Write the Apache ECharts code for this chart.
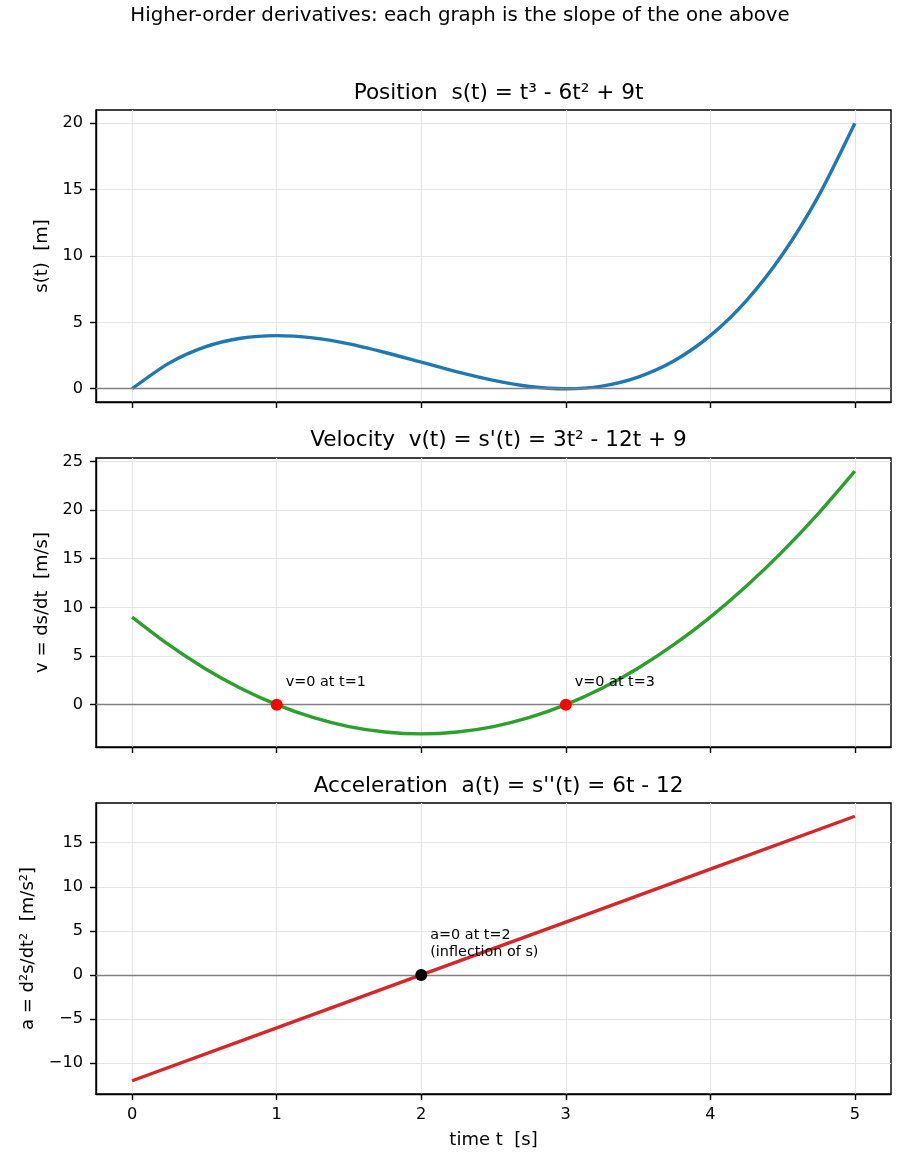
<!DOCTYPE html>
<html>
<head>
<meta charset="utf-8">
<script src="https://cdn.jsdelivr.net/npm/echarts@6/dist/echarts.min.js"></script>
<style>
  html, body { margin: 0; padding: 0; background: #fff; }
  #chart { width: 910px; height: 1170px; }
</style>
</head>
<body>
<div id="chart"></div>
<script>
const tVals = [0, 0.25, 0.5, 0.75, 1, 1.25, 1.5, 1.75, 2, 2.25, 2.5, 2.75, 3, 3.25, 3.5, 3.75, 4, 4.25, 4.5, 4.75, 5];
const sVals = [0, 1.89, 3.13, 3.8, 4, 3.83, 3.38, 2.73, 2, 1.27, 0.63, 0.17, 0, 0.2, 0.88, 2.11, 4, 6.64, 10.13, 14.55, 20];
const vVals = [9, 6.19, 3.75, 1.69, 0, -1.31, -2.25, -2.81, -3, -2.81, -2.25, -1.31, 0, 1.69, 3.75, 6.19, 9, 12.19, 15.75, 19.69, 24];
const aT = [0, 1, 2, 3, 4, 5];
const aVals = [-12, -6, 0, 6, 12, 18];

const vZeroPts = [[1, 0, 'v=0 at t=1'], [3, 0, 'v=0 at t=3']];
const aZeroPts = [[2, 0, 'a=0 at t=2\n(inflection of s)']];

const xTicks = [0, 1, 2, 3, 4, 5];
const sTicks = [0, 5, 10, 15, 20];
const vTicks = [0, 5, 10, 15, 20, 25];
const aTicks = [-10, -5, 0, 5, 10, 15];

const titles = [
  'Position  s(t) = t³ - 6t² + 9t',
  "Velocity  v(t) = s'(t) = 3t² - 12t + 9",
  "Acceleration  a(t) = s''(t) = 6t - 12"
];
const yNames = ['s(t)  [m]', 'v = ds/dt  [m/s]', 'a = d²s/dt²  [m/s²]'];

const FONT = 'DejaVu Sans';
const TICK_FS = 16.2;
const LABEL_FS = 18;
const SUP_FS = 19.8;
const TITLE_FS = 21.6;
const NOTE_FS = 14.4;
const pair = (xs, ys) => xs.map((x, i) => [x, ys[i]]);

const grids = [
  { left: 96, right: 19, top: 110, height: 292 },
  { left: 96, right: 19, top: 458, height: 289 },
  { left: 96, right: 19, top: 803, height: 291 }
].map(g => Object.assign(g, { show: true, borderColor: '#000', borderWidth: 1.4, backgroundColor: 'transparent' }));

const yRanges = [[-1, 21], [-4.35, 25.35], [-13.5, 19.5]];
const yTickSets = [sTicks, vTicks, aTicks];
const nameGaps = [43, 43, 59];

const minusFmt = v => String(v).replace('-', '\u2212');

const xAxes = [0, 1, 2].map(i => ({
  type: 'value', gridIndex: i, min: -0.25, max: 5.25,
  name: i === 2 ? 'time t  [s]' : '',
  nameLocation: 'middle', nameGap: 37,
  nameTextStyle: { fontFamily: FONT, fontSize: LABEL_FS, color: '#000' },
  axisLine: { show: true, onZero: false, lineStyle: { color: '#000', width: 1.4 } },
  axisTick: { show: true, length: 6, customValues: xTicks, lineStyle: { color: '#000', width: 1.4 } },
  axisLabel: { show: i === 2, customValues: xTicks, margin: 13, fontFamily: FONT, fontSize: TICK_FS, color: '#000' },
  splitLine: { show: true, lineStyle: { color: '#e4e4e4', width: 1.2 } }
}));

const yAxes = [0, 1, 2].map(i => ({
  type: 'value', gridIndex: i, min: yRanges[i][0], max: yRanges[i][1],
  name: yNames[i], nameLocation: 'middle', nameGap: nameGaps[i], nameRotate: 90,
  nameTextStyle: { fontFamily: FONT, fontSize: LABEL_FS, color: '#000' },
  axisLine: { show: true, onZero: false, lineStyle: { color: '#000', width: 1.4 } },
  axisTick: { show: true, length: 6, customValues: yTickSets[i], lineStyle: { color: '#000', width: 1.4 } },
  axisLabel: { customValues: yTickSets[i], margin: 13, fontFamily: FONT, fontSize: TICK_FS, color: '#000', formatter: minusFmt },
  splitLine: { show: true, lineStyle: { color: '#e4e4e4', width: 1.2 } }
}));

const zeroLine = {
  silent: true, symbol: 'none', animation: false,
  label: { show: false },
  lineStyle: { color: '#808080', width: 1.4, type: 'solid' },
  data: [{ yAxis: 0 }]
};

const series = [
  {
    type: 'line', xAxisIndex: 0, yAxisIndex: 0, data: pair(tVals, sVals),
    smooth: 0.25, showSymbol: false, lineStyle: { color: '#1f77b4', width: 3.4 },
    markLine: zeroLine, z: 3
  },
  {
    type: 'line', xAxisIndex: 1, yAxisIndex: 1, data: pair(tVals, vVals),
    smooth: 0.25, showSymbol: false, lineStyle: { color: '#2ca02c', width: 3.4 },
    markLine: zeroLine, z: 3
  },
  {
    type: 'line', xAxisIndex: 2, yAxisIndex: 2, data: pair(aT, aVals),
    showSymbol: false, lineStyle: { color: '#d62728', width: 3.4 },
    markLine: zeroLine, z: 3
  },
  {
    type: 'scatter', xAxisIndex: 1, yAxisIndex: 1, data: vZeroPts,
    symbolSize: 12, itemStyle: { color: '#ff0000', opacity: 1 }, z: 5,
    label: {
      show: true, position: [15, -24], align: 'left', verticalAlign: 'top',
      formatter: p => p.data[2], fontFamily: FONT, fontSize: NOTE_FS, lineHeight: NOTE_FS, color: '#000'
    }
  },
  {
    type: 'scatter', xAxisIndex: 2, yAxisIndex: 2, data: aZeroPts,
    symbolSize: 12, itemStyle: { color: '#000', opacity: 1 }, z: 5,
    label: {
      show: true, position: [15, -42], align: 'left', verticalAlign: 'top',
      formatter: p => p.data[2], fontFamily: FONT, fontSize: NOTE_FS, lineHeight: 17, color: '#000'
    }
  }
];

const titleTops = [78, 425, 771];
const title = [
  { text: 'Higher-order derivatives: each graph is the slope of the one above', left: 455, top: 1, textAlign: 'center',
    textStyle: { fontFamily: FONT, fontSize: SUP_FS, lineHeight: SUP_FS, fontWeight: 'normal', color: '#000' } }
].concat(titles.map((t, i) => ({
  text: t, left: 493.5, top: titleTops[i], textAlign: 'center',
  textStyle: { fontFamily: FONT, fontSize: TITLE_FS, lineHeight: TITLE_FS, fontWeight: 'normal', color: '#000' }
})));

const chart = echarts.init(document.getElementById('chart'));
chart.setOption({
  animation: false,
  backgroundColor: '#fff',
  title,
  grid: grids,
  xAxis: xAxes,
  yAxis: yAxes,
  series
});
</script>
</body>
</html>
